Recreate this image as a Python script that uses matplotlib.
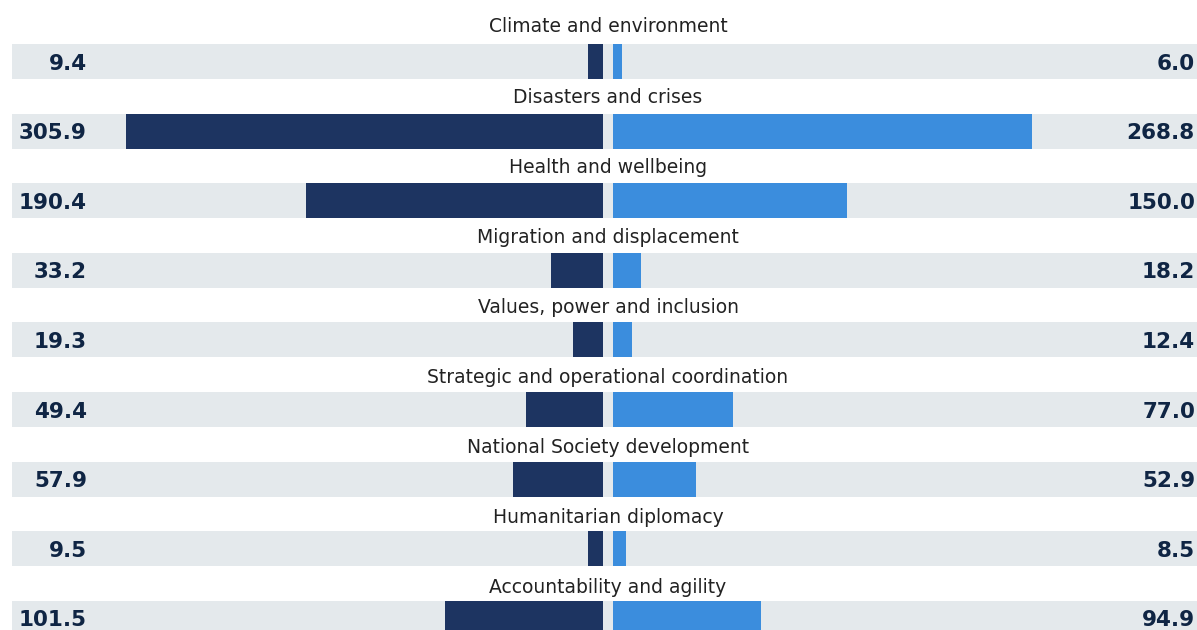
import matplotlib.pyplot as plt

categories = [
    "Climate and environment",
    "Disasters and crises",
    "Health and wellbeing",
    "Migration and displacement",
    "Values, power and inclusion",
    "Strategic and operational coordination",
    "National Society development",
    "Humanitarian diplomacy",
    "Accountability and agility",
]
left_values = [9.4, 305.9, 190.4, 33.2, 19.3, 49.4, 57.9, 9.5, 101.5]
right_values = [6.0, 268.8, 150.0, 18.2, 12.4, 77.0, 52.9, 8.5, 94.9]

dark = "#1d3461"
light = "#3b8ddd"
band = "#e4e9ec"
value_color = "#0f2544"

W, H = 1197, 630
px = 1.56          # pixels per unit
center_px = 608
gap = 5 / px       # half gap between the two bars
pitch = 69.6       # pixels between rows
first_px = 61.5
label_pitch = 70.1
label_base_px = 32.5

fig = plt.figure(figsize=(W / 100, H / 100), dpi=100)
ax = fig.add_axes([0, 0, 1, 1])
ax.set_xlim(-center_px / px, (W - center_px) / px)
ax.set_ylim((H - first_px) / pitch, -first_px / pitch)
ax.axis("off")

band_h = 35 / pitch
band_left = (12 - center_px) / px
band_right = (W - center_px) / px
rows = list(range(len(categories)))

ax.barh(rows, [band_right - band_left] * len(categories), left=band_left,
        height=band_h, color=band, zorder=1)
ax.barh(rows, [-v for v in left_values], left=-gap, height=band_h,
        color=dark, zorder=2)
ax.barh(rows, right_values, left=gap, height=band_h,
        color=light, zorder=2)

for i, (cat, lv, rv) in enumerate(zip(categories, left_values, right_values)):
    ly = (label_base_px + label_pitch * i - first_px) / pitch
    ax.text(0, ly, cat, ha="center", va="baseline", fontsize=13.5,
            color="#222222", family="DejaVu Sans")
    vy = i + 8 / pitch
    ax.text((87 - center_px) / px, vy, f"{lv:.1f}", ha="right", va="baseline",
            fontsize=15.5, fontweight="heavy", color=value_color, family="DejaVu Sans")
    ax.text((1195 - center_px) / px, vy, f"{rv:.1f}", ha="right", va="baseline",
            fontsize=15.5, fontweight="heavy", color=value_color, family="DejaVu Sans")

fig.savefig("out.png", dpi=100)
